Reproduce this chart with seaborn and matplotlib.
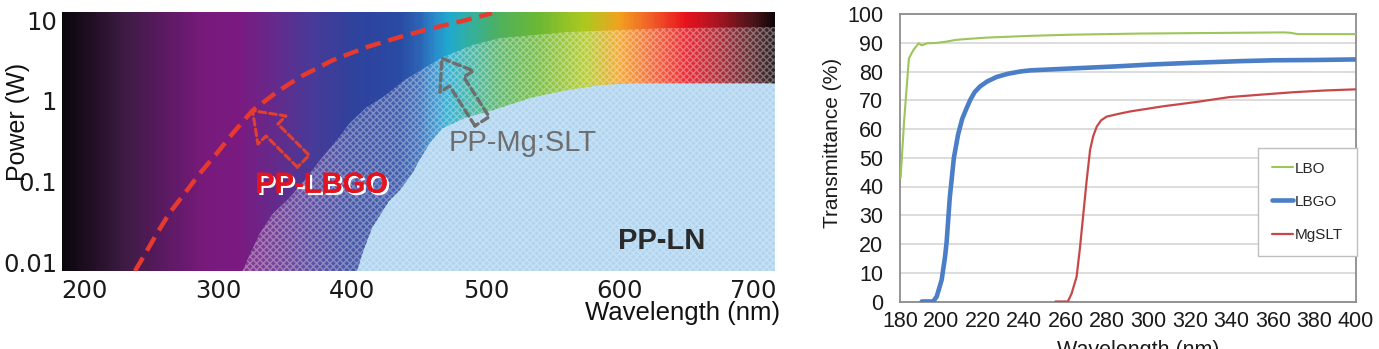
import numpy as np
import pandas as pd
import matplotlib
matplotlib.use("Agg")
import matplotlib.pyplot as plt
import matplotlib.patheffects as pe
from matplotlib.colors import LinearSegmentedColormap
import seaborn as sns

# ---------------- Left panel data ----------------
spec_nm = [183, 200, 230, 260, 290, 315, 340, 370, 400, 435, 450, 462, 472, 490,
           510, 540, 575, 600, 625, 650, 675, 700, 716]
spec_col = ["#0b060c", "#1c0d1f", "#3e1b44", "#5c1a63", "#781a7c", "#7a1a80",
            "#66298a", "#483a98", "#2f429c", "#2a4aa3", "#2c62b4", "#2a8ccb",
            "#1fa9cf", "#35b09a", "#4fb05e", "#6cb833", "#aec81f", "#f2a21f",
            "#f05a28", "#e8121e", "#a41422", "#4a141a", "#100508"]

# upper boundary of hatched region (PP-LBGO / PP-Mg:SLT)
hatch_nm = [317.9, 324.6, 330.6, 340.3, 353.0, 365.7, 375.4, 388.1, 397.8, 410.4,
            422.4, 438.8, 467.2, 489.6, 509.7, 559.7, 634.3, 716]
hatch_pw = [0.0079, 0.0139, 0.0226, 0.040, 0.0633, 0.112, 0.182, 0.323, 0.525,
            0.83, 1.10, 1.80, 3.47, 4.89, 5.97, 7.1, 7.96, 8.2]

# upper boundary of PP-LN region
ln_nm = [403.7, 407.5, 414.9, 427.6, 435.1, 444.8, 450, 458, 467.2, 485.1, 504.5,
         534.3, 559.7, 584.3, 609, 716]
ln_pw = [0.0079, 0.0128, 0.027, 0.058, 0.077, 0.126, 0.182, 0.30, 0.455, 0.624,
         0.762, 1.10, 1.35, 1.56, 1.65, 1.65]

# red dashed limit curve
limit_nm = [237.5, 238.8, 246.3, 253.7, 263.4, 276.1, 285.8, 298.5, 310.4, 325.4,
            343.3, 360.4, 385.1, 410.4, 435.1, 459.7, 485.1, 504.5]
limit_pw = [0.0079, 0.00855, 0.0139, 0.0226, 0.0412, 0.0773, 0.1256, 0.223, 0.394,
            0.762, 1.28, 1.96, 3.18, 4.62, 6.15, 7.96, 10.0, 12.2]

left_xticks = [200, 300, 400, 500, 600, 700]
left_yticks = [0.01, 0.1, 1, 10]
left_yticklabels = ["0.01", "0.1", "1", "10"]

# ---------------- Right panel data ----------------
lbo_nm = [180.3, 182, 184.3, 186.5, 189, 190.5, 193, 197, 202.5, 207, 212, 222,
          243, 262, 296, 331, 365, 368, 372, 400]
lbo_t = [43, 63, 84.6, 87.5, 89.8, 89.1, 89.8, 89.9, 90.4, 91, 91.3, 91.8,
         92.4, 92.8, 93.2, 93.4, 93.6, 93.5, 93.0, 93.0]

lbgo_nm = [190.5, 196, 197.7, 200.1, 201.7, 202.5, 204, 206, 208, 210, 212,
           213.8, 216, 218.6, 222, 226.6, 232, 238, 243, 255, 270, 285, 300,
           320, 344, 360, 380, 400]
lbgo_t = [0, 0, 1.7, 7.5, 15.4, 20.7, 36, 50, 58, 63.5, 67, 70, 72.8, 74.8,
          76.5, 78.1, 79.2, 80, 80.4, 80.8, 81.3, 81.8, 82.4, 83.0, 83.6, 83.9,
          84.0, 84.2]

mgslt_nm = [255, 261, 262.8, 265.2, 266.8, 268.4, 270, 271.7, 273.2, 274.9,
            277, 279.7, 285, 291, 307, 323, 339, 355, 370, 385, 400]
mgslt_t = [0, 0, 2.8, 8.6, 18.5, 30.1, 41.7, 52.7, 57.5, 60.8, 63, 64.3, 65.2,
           66.1, 67.9, 69.4, 71.1, 72.0, 72.8, 73.4, 73.8]

series_names = ["LBO", "LBGO", "MgSLT"]
series_colors = ["#9dc558", "#4a7ec6", "#c8484a"]
series_widths = [1.5, 3.3, 1.6]

# ---------------- Figure ----------------
sns.set_style("white")
plt.rcParams["font.family"] = ["Liberation Sans", "DejaVu Sans"]

fig = plt.figure(figsize=(13.79, 3.49), dpi=100)
axL = fig.add_axes([62 / 1379, 1 - 271 / 349, 713 / 1379, 259 / 349])
axR = fig.add_axes([900 / 1379, 1 - 301.5 / 349, 456 / 1379, 287.5 / 349])

# ---- Left: spectrum background ----
xlo, xhi = 183, 716
ylo, yhi = 0.0079, 12.6
pos = [(v - xlo) / (xhi - xlo) for v in spec_nm]
cmap = LinearSegmentedColormap.from_list("spec", list(zip(pos, spec_col)))
xe = np.linspace(xlo, xhi, 701)
C = ((xe[:-1] + xe[1:]) / 2)[None, :]
axL.pcolormesh(xe, [ylo, yhi], C, cmap=cmap, vmin=xlo, vmax=xhi,
               shading="flat", zorder=0, rasterized=True)

plt.rcParams["hatch.linewidth"] = 1.0
axL.fill_between(hatch_nm, ylo, hatch_pw, facecolor=(1, 1, 1, 0.12),
                 edgecolor=(1, 1, 1, 0.32), hatch="xxxxx", linewidth=0, zorder=1)
axL.fill_between(ln_nm, ylo, ln_pw, facecolor="#b2d5ef",
                 edgecolor="#c6e1f5", hatch="xxxxx", linewidth=0, zorder=2)

sns.lineplot(x=limit_nm, y=limit_pw, ax=axL, color="#e8392f", linewidth=3.2,
             linestyle=(0, (3.5, 1.8)), sort=False, estimator=None, zorder=4)

# hollow dashed arrows
axL.annotate("", xy=(325.4, 0.76), xytext=(363.4, 0.18),
             arrowprops=dict(arrowstyle="simple,head_length=0.9,head_width=1.3,tail_width=0.55",
                             mutation_scale=22, fc="none", ec="#e0402e", lw=2.2,
                             ls=(0, (2.2, 1.3)), shrinkA=0, shrinkB=0), zorder=5)
axL.annotate("", xy=(467, 3.37), xytext=(497, 0.56),
             arrowprops=dict(arrowstyle="simple,head_length=0.9,head_width=1.3,tail_width=0.55",
                             mutation_scale=22, fc="none", ec="#6e6e6e", lw=2.4,
                             ls=(0, (2.2, 1.3)), shrinkA=0, shrinkB=0), zorder=5)

axL.text(377, 0.092, "PP-LBGO", color="#e3141f", fontsize=21, fontweight="bold",
         ha="center", va="center", zorder=6,
         path_effects=[pe.withSimplePatchShadow(offset=(1.6, -1.6), shadow_rgbFace="white", alpha=1.0),
                       pe.Normal()])
axL.text(527, 0.305, "PP-Mg:SLT", color="#6e6e6e", fontsize=21,
         ha="center", va="center", zorder=6)
axL.text(631, 0.0185, "PP-LN", color="#2a2a2a", fontsize=21, fontweight="bold",
         ha="center", va="center", zorder=6)

axL.set_yscale("log")
axL.set_xlim(xlo, xhi)
axL.set_ylim(ylo, yhi)
axL.set_xticks(left_xticks)
axL.set_xticklabels([str(v) for v in left_xticks], family="DejaVu Sans", fontsize=17.5)
axL.set_yticks(left_yticks)
axL.set_yticklabels(left_yticklabels, family="DejaVu Sans", fontsize=17.5)
axL.yaxis.set_minor_locator(matplotlib.ticker.NullLocator())
axL.tick_params(axis="x", length=0, pad=6, colors="#1a1a1a")
axL.tick_params(axis="y", length=0, pad=3.5, colors="#1a1a1a")
for s in axL.spines.values():
    s.set_visible(False)
axL.set_xlabel("Wavelength (nm)", fontsize=18.5, color="#111111")
axL.xaxis.set_label_coords(1.007, -0.162)
axL.xaxis.label.set(ha="right", va="center")
axL.set_ylabel("Power (W)", fontsize=18, color="#111111")
axL.yaxis.set_label_coords(-0.062, 0.575)
axL.yaxis.label.set(ha="center", va="center")

# ---- Right: transmittance ----
for nm, t, name, c, w in zip([lbo_nm, lbgo_nm, mgslt_nm], [lbo_t, lbgo_t, mgslt_t],
                             series_names, series_colors, series_widths):
    sns.lineplot(x=nm, y=t, ax=axR, color=c, linewidth=w, label=name,
                 sort=False, estimator=None, zorder=3)

axR.set_xlim(180, 400)
axR.set_ylim(0, 100)
axR.set_xticks(np.arange(180, 401, 20))
axR.set_xticks(np.arange(180, 401, 10), minor=True)
axR.set_yticks(np.arange(0, 101, 10))
axR.grid(axis="y", color="#dcdcdc", linewidth=1.4, zorder=0)
axR.grid(axis="x", visible=False)
axR.set_axisbelow(True)
for s in axR.spines.values():
    s.set_color("#8c8c8c")
    s.set_linewidth(1.3)
axR.tick_params(axis="x", which="both", direction="in", length=4, width=1,
                color="#8c8c8c", labelsize=15.5, labelcolor="#1a1a1a", pad=7)
axR.tick_params(axis="y", length=0, labelsize=15.5, labelcolor="#1a1a1a", pad=12)
axR.set_ylabel("Transmittance (%)", fontsize=15, color="#1a1a1a")
axR.yaxis.set_label_coords(-0.148, 0.552)
axR.yaxis.label.set(ha="center", va="center")
axR.set_xlabel("Wavelength (nm)", fontsize=15.5, color="#1a1a1a")
axR.xaxis.set_label_coords(0.522, -0.135)
axR.xaxis.label.set(ha="center", va="top")

leg = axR.legend(loc="upper left", bbox_to_anchor=(0.785, 0.534), borderaxespad=0,
                 frameon=True, fancybox=False, framealpha=1, edgecolor="#bfbfbf",
                 fontsize=11, handlelength=1.4, handletextpad=0.1,
                 labelspacing=1.25, borderpad=0.9)
leg.get_frame().set_linewidth(1.0)

fig.savefig("out.png", dpi=100)
